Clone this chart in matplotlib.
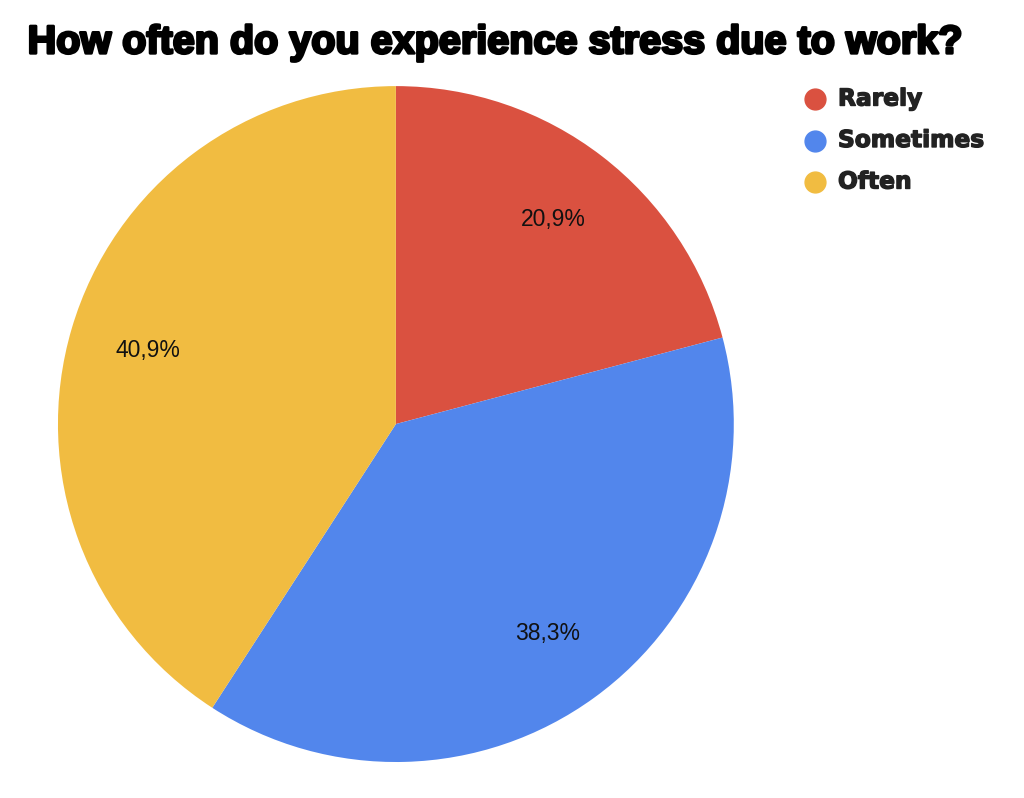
import matplotlib
matplotlib.use("Agg")
import matplotlib.pyplot as plt
import matplotlib.patheffects as pe
import numpy as np

categories = ["Rarely", "Sometimes", "Often"]
values = [20.9, 38.3, 40.9]
colors = ["#DA5140", "#5286EC", "#F1BC41"]
title = "How often do you experience stress due to work?"

fig = plt.figure(figsize=(10.24, 7.98), dpi=100)
fig.patch.set_facecolor("white")

ax = fig.add_axes([0.0566, 0.0451, 0.660, 0.847])
labels_pct = [f"{v:.1f}".replace(".", ",") + "%" for v in values]
ax.pie(values, colors=colors, startangle=90, counterclock=False,
       wedgeprops=dict(linewidth=0))
total = sum(values)
angle = 90.0
for v, lab in zip(values, labels_pct):
    span = v / total * 360
    mid = np.deg2rad(angle - span / 2)
    angle -= span
    ax.text(0.765 * np.cos(mid), 0.765 * np.sin(mid), lab, ha="center", va="center",
            fontsize=16.5, family="Liberation Sans", color="#111111")
ax.set_xlim(-1, 1)
ax.set_ylim(-1, 1)
ax.set_aspect("auto")

fig.text(0.027, 0.947, title, fontsize=28.5, fontweight="bold", family="Liberation Sans",
         ha="left", va="center", color="black",
         path_effects=[pe.withStroke(linewidth=2.0, foreground="black")])

# legend overlay in pixel coordinates
lax = fig.add_axes([0, 0, 1, 1])
lax.set_xlim(0, 1024)
lax.set_ylim(798, 0)
lax.axis("off")
lax.patch.set_alpha(0)
for i, (c, name) in enumerate(zip(colors, categories)):
    y = 99 + 41.5 * i
    lax.plot([815], [y], marker="o", markersize=15, color=c, linestyle="")
    lax.text(838, y, name, ha="left", va="center", family="DejaVu Sans",
             fontweight="bold", fontsize=16.8, color="#222222",
             path_effects=[pe.withStroke(linewidth=1.0, foreground="#222222")])

fig.savefig("out.png", dpi=100, facecolor="white")
